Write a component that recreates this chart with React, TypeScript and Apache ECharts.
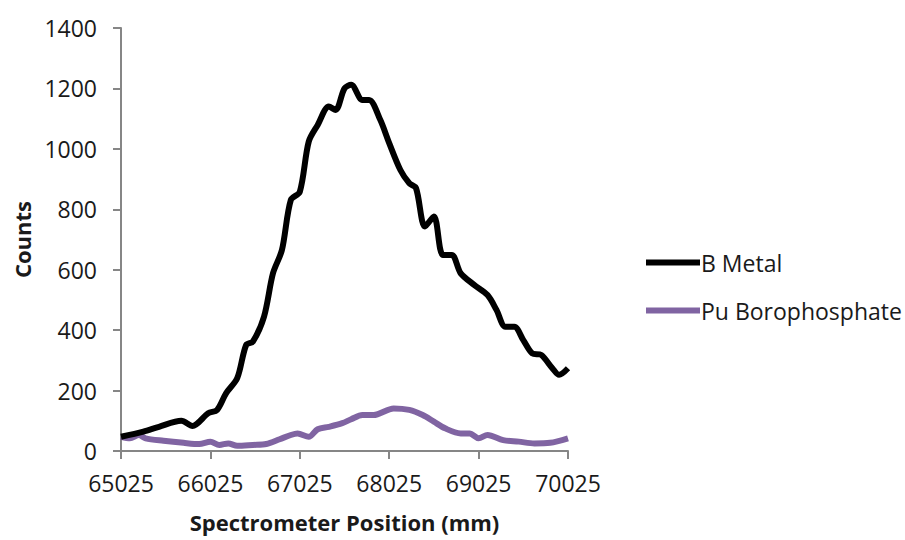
import React, { useEffect, useRef } from "react";
import * as echarts from "echarts";

const bMetalX = [65025, 65275, 65450, 65700, 65825, 66000, 66100, 66200, 66325, 66425, 66500, 66625, 66725, 66825, 66925, 67025, 67125, 67225, 67350, 67425, 67525, 67600, 67725, 67800, 67925, 68025, 68150, 68250, 68325, 68425, 68525, 68625, 68725, 68825, 68975, 69125, 69225, 69325, 69425, 69525, 69625, 69725, 69850, 69925, 70025];
const bMetalY = [47, 64, 80, 100, 83, 125, 136, 191, 241, 351, 362, 445, 588, 665, 831, 858, 1024, 1079, 1140, 1129, 1200, 1212, 1162, 1162, 1096, 1019, 930, 886, 870, 743, 776, 649, 649, 588, 550, 516, 467, 411, 411, 367, 323, 318, 274, 252, 274];

const puX = [65025, 65125, 65225, 65300, 65500, 65725, 65900, 66025, 66125, 66225, 66325, 66500, 66650, 66800, 66925, 67000, 67125, 67225, 67350, 67500, 67600, 67725, 67850, 68075, 68250, 68400, 68525, 68650, 68825, 68925, 69025, 69125, 69300, 69475, 69650, 69825, 70025];
const puY = [47, 42, 53, 42, 34, 27, 23, 31, 20, 25, 17, 20, 23, 39, 53, 58, 47, 72, 80, 92, 105, 119, 119, 141, 136, 119, 97, 75, 58, 58, 42, 53, 36, 31, 25, 27, 42];

const seriesNames = ["B Metal", "Pu Borophosphate"];
const FONT = "Open Sans";

export default function App() {
  const ref = useRef<HTMLDivElement>(null);
  useEffect(() => {
    if (!ref.current) return;
    const chart = echarts.init(ref.current, undefined, { renderer: "svg" });
    const axisColor = "#868686";
    chart.setOption({
      animation: false,
      backgroundColor: "#ffffff",
      textStyle: { fontFamily: FONT },
      grid: { left: 121, right: 337, top: 28, bottom: 89, containLabel: false },
      legend: {
        orient: "vertical",
        left: 641,
        top: 246,
        itemWidth: 54,
        itemHeight: 6,
        itemGap: 25,
        icon: "rect",
        textStyle: { fontFamily: FONT, fontSize: 23, color: "#1a1a1a", padding: [0, 0, 0, -4] },
        data: seriesNames,
      },
      xAxis: {
        type: "value",
        min: 65025,
        max: 70025,
        interval: 1000,
        name: "Spectrometer Position (mm)",
        nameLocation: "middle",
        nameGap: 60,
        nameTextStyle: { fontFamily: FONT, fontSize: 22, fontWeight: "bold", color: "#1a1a1a" },
        axisLine: { show: true, lineStyle: { color: axisColor, width: 2 } },
        axisTick: { show: true, inside: false, length: 8, lineStyle: { color: axisColor, width: 2 } },
        axisLabel: { fontFamily: FONT, fontSize: 23, color: "#1a1a1a", margin: 20, formatter: (v: number) => String(v) },
        splitLine: { show: false },
      },
      yAxis: {
        type: "value",
        min: 0,
        max: 1400,
        interval: 200,
        name: "Counts",
        nameLocation: "middle",
        nameRotate: 90,
        nameGap: 88,
        nameTextStyle: { fontFamily: FONT, fontSize: 22, fontWeight: "bold", color: "#1a1a1a" },
        axisLine: { show: true, lineStyle: { color: axisColor, width: 2 } },
        axisTick: { show: true, inside: false, length: 8, lineStyle: { color: axisColor, width: 2 } },
        axisLabel: { fontFamily: FONT, fontSize: 23, color: "#1a1a1a", margin: 24, formatter: (v: number) => String(v) },
        splitLine: { show: false },
      },
      series: [
        {
          name: seriesNames[0],
          type: "line",
          data: bMetalX.map((x, i) => [x, bMetalY[i]]),
          showSymbol: false,
          smooth: 0.3,
          lineStyle: { color: "#000000", width: 6 },
          itemStyle: { color: "#000000" },
          z: 3,
        },
        {
          name: seriesNames[1],
          type: "line",
          data: puX.map((x, i) => [x, puY[i]]),
          showSymbol: false,
          smooth: 0.3,
          lineStyle: { color: "#8064A2", width: 6 },
          itemStyle: { color: "#8064A2" },
          z: 2,
        },
      ],
    });
    return () => chart.dispose();
  }, []);
  return <div ref={ref} style={{ width: 905, height: 540, position: "absolute", left: 0, top: 0 }} />;
}
